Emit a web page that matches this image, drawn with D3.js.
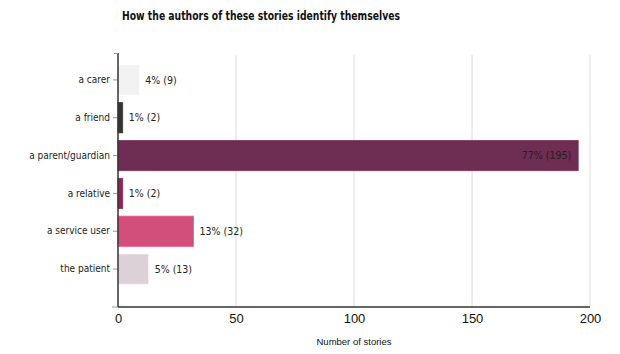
<!DOCTYPE html>
<html>
<head>
<meta charset="utf-8">
<script src="https://cdn.jsdelivr.net/npm/d3@7"></script>
<style>
  body { margin: 0; background: #fff; }
  svg { display: block; }
</style>
</head>
<body>
<svg id="chart" width="620" height="354"></svg>
<script>
const categories = ["a carer", "a friend", "a parent/guardian", "a relative", "a service user", "the patient"];
const counts = [9, 2, 195, 2, 32, 13];
const percents = ["4%", "1%", "77%", "1%", "13%", "5%"];
const colors = ["#f2f2f2", "#333333", "#6e2d52", "#8b2452", "#d24f7c", "#ddd1d8"];
const xTicks = [0, 50, 100, 150, 200];

const svg = d3.select("#chart");
const margin = { top: 53, left: 118, right: 30, bottom: 47 };
const width = 620 - margin.left - margin.right;
const height = 354 - margin.top - margin.bottom;

const g = svg.append("g").attr("transform", `translate(${margin.left},${margin.top})`);

const x = d3.scaleLinear().domain([0, 200]).range([0, width]);
const y = d3.scaleBand().domain(categories).range([8, 235]).paddingInner(0.2).paddingOuter(0.1);

//gridlines
g.append("g").selectAll("line")
    .data(xTicks.slice(1))
    .enter().append("line")
    .attr("x1", d => x(d)).attr("x2", d => x(d))
    .attr("y1", 2).attr("y2", height)
    .attr("stroke", "#dcdcdc").attr("stroke-width", 1);

//bars
const data = categories.map((c, i) => ({ cat: c, n: counts[i], pct: percents[i], color: colors[i] }));

g.append("g").selectAll("rect")
    .data(data)
    .enter().append("rect")
    .attr("x", 0)
    .attr("y", d => y(d.cat))
    .attr("width", d => x(d.n))
    .attr("height", y.bandwidth())
    .attr("fill", d => d.color)
    .attr("stroke", d => d3.color(d.color).brighter(0.4))
    .attr("stroke-width", 0.8);

//value labels
g.append("g").selectAll("text")
    .data(data)
    .enter().append("text")
    .attr("x", d => d.n > 150 ? x(d.n) - 7 : x(d.n) + 6)
    .attr("y", d => y(d.cat) + y.bandwidth() / 2)
    .attr("dy", "0.35em")
    .attr("text-anchor", d => d.n > 150 ? "end" : "start")
    .style("font-family", "DejaVu Sans Condensed, DejaVu Sans")
    .style("font-size", "10.5px")
    .attr("fill", "#222")
    .text(d => `${d.pct} (${d.n})`);

//y axis
const yAxis = g.append("g").call(d3.axisLeft(y).tickSize(5).tickPadding(3));
yAxis.select(".domain").remove();
yAxis.selectAll(".tick line").attr("stroke", "#999");
yAxis.selectAll(".tick text")
    .style("font-family", "DejaVu Sans Condensed, DejaVu Sans")
    .style("font-size", "10px")
    .attr("fill", "#222");
g.append("line")
    .attr("x1", 0).attr("x2", 0).attr("y1", 0).attr("y2", height)
    .attr("stroke", "#333").attr("stroke-width", 1.5);
g.append("line")
    .attr("x1", -4).attr("x2", 0).attr("y1", 0.5).attr("y2", 0.5)
    .attr("stroke", "#999");

//x axis
const xAxis = g.append("g")
    .attr("transform", `translate(0,${height})`)
    .call(d3.axisBottom(x).tickValues(xTicks).tickSize(0).tickPadding(7));
xAxis.select(".domain").remove();
xAxis.selectAll(".tick text")
    .style("font-family", "Liberation Sans, Arial")
    .style("font-size", "13px")
    .attr("fill", "#111");
g.append("line")
    .attr("x1", -6).attr("x2", 0).attr("y1", height).attr("y2", height)
    .attr("stroke", "#999");
g.append("line")
    .attr("x1", 0).attr("x2", width).attr("y1", height).attr("y2", height)
    .attr("stroke", "#333").attr("stroke-width", 1.5);

//axis label
svg.append("text")
    .attr("x", margin.left + width / 2)
    .attr("y", 345)
    .attr("text-anchor", "middle")
    .style("font-family", "Liberation Sans, Arial")
    .style("font-size", "9.5px")
    .attr("fill", "#111")
    .text("Number of stories");

//title
svg.append("text")
    .attr("x", 261)
    .attr("y", 20)
    .attr("text-anchor", "middle")
    .attr("textLength", 278)
    .attr("lengthAdjust", "spacingAndGlyphs")
    .style("font-family", "DejaVu Sans Condensed, DejaVu Sans")
    .style("font-size", "12px")
    .style("font-weight", "bold")
    .attr("fill", "#111")
    .text("How the authors of these stories identify themselves");
</script>
</body>
</html>
